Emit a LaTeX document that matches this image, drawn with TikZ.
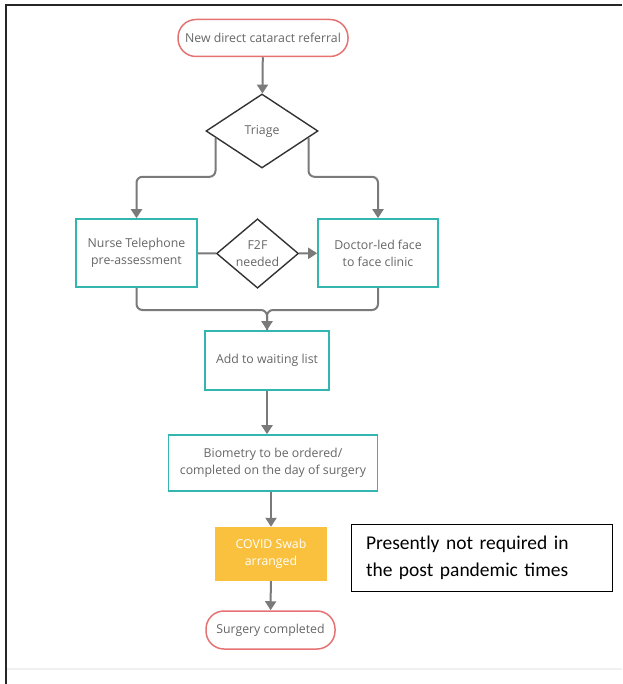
\documentclass[tikz,border=0pt]{standalone}
\usepackage{fontspec}
\usepackage{tikz}
\usetikzlibrary{shapes.geometric, arrows.meta, calc}
\newfontfamily\flowfont{Open Sans}
\newfontfamily\notefont{Carlito}
\definecolor{pillred}{HTML}{E57373}
\definecolor{tealline}{HTML}{33B5B0}
\definecolor{swabfill}{HTML}{F9C13E}
\definecolor{flowtext}{HTML}{666666}
\definecolor{linkgray}{HTML}{7A7A7A}
\tikzset{
  >={Triangle[width=11pt, length=9pt]},
  every node/.style={font=\flowfont\fontsize{12.3}{17}\selectfont, text=flowtext, align=center},
  pill/.style={draw=pillred, line width=1.5pt, rounded corners=18pt, fill=white},
  box/.style={draw=tealline, line width=1.6pt, fill=white},
  decision/.style={diamond, draw=black!80, line width=1.4pt, inner sep=0pt},
  swab/.style={fill=swabfill, text=white},
  link/.style={draw=linkgray, line width=2pt},
  arrow/.style={link, ->},
}

\begin{document}
\begin{tikzpicture}[x=1pt, y=-1pt]
      \useasboundingbox (0,0) rectangle (622,684);
      % frame of the page
      \draw[line width=2pt, black!85] (6,684) -- (6,5) -- (622,5);
      \draw[line width=1.5pt, black!6] (7,669) -- (622,669);

      \node[pill, minimum width=170pt, minimum height=37pt] (start) at (263,38) {New direct cataract referral};
      \node[decision, minimum width=112pt, minimum height=74pt] (triage) at (262,131) {Triage};
      \node[box, minimum width=121pt, minimum height=68pt] (nurse) at (136.5,253) {Nurse Telephone\\pre-assessment};
      \node[decision, minimum width=82pt, minimum height=62pt] (f2f) at (257.5,253.5) {F2F\\needed};
      \node[box, minimum width=120pt, minimum height=68pt] (doctor) at (378,253) {Doctor-led face\\to face clinic};
      \node[box, minimum width=124pt, minimum height=59pt] (wait) at (267,360.5) {Add to waiting list};
      \node[box, minimum width=209pt, minimum height=56pt] (bio) at (273,463) {Biometry to be ordered/\\completed on the day of surgery};
      \node[swab, minimum width=112pt, minimum height=54pt] (covid) at (271,554) {COVID Swab\\arranged};
      \node[pill, minimum width=129pt, minimum height=38pt] (surgery) at (270.5,630) {Surgery completed};
      \node[draw=black, line width=1pt, minimum height=67pt, text width=231pt, inner xsep=15pt, align=left,
            text=black, font=\notefont\fontsize{19.5}{27}\selectfont] (note) at (481.5,557.5)
            {Presently not required in\\the post pandemic times};

      \coordinate (tl) at ($(triage.west)!0.18!(triage.south)$);
      \coordinate (tr) at ($(triage.east)!0.18!(triage.south)$);
      \coordinate (merge) at (267,310);

      \draw[arrow] (start) -- (triage);
      \draw[arrow, rounded corners=6pt] (tl) -- ++(0,39) -| (nurse.north);
      \draw[arrow, rounded corners=6pt] (tr) -- ++(0,39) -| (doctor.north);
      \draw[link] (nurse) -- (f2f);
      \draw[arrow] (f2f) -- (doctor);
      \draw[link, rounded corners=6pt] (nurse.south) |- (merge) -- (wait.north);
      \draw[arrow, rounded corners=6pt] (doctor.south) |- (merge) -- (wait.north);
      \draw[arrow] (wait) -- (wait.south |- bio.north);
      \draw[arrow] (bio.south -| covid.north) -- (covid);
      \draw[arrow] (covid) -- (surgery);
\end{tikzpicture}
\end{document}
